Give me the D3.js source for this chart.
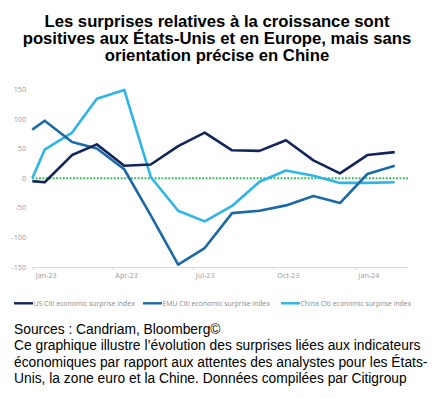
<!DOCTYPE html>
<html>
<head>
<meta charset="utf-8">
<script src="https://cdn.jsdelivr.net/npm/d3@7"></script>
<style>
  body { margin: 0; background: #fff; }
  svg { display: block; }
</style>
</head>
<body>
<svg id="chart" width="434" height="398"></svg>
<script>
// dates: first point at 1 Jan, then mid-month readings
var dates = ["2023-01-01", "2023-01-15", "2023-02-15", "2023-03-15", "2023-04-15", "2023-05-15",
             "2023-06-15", "2023-07-15", "2023-08-15", "2023-09-15", "2023-10-15", "2023-11-15",
             "2023-12-15", "2024-01-15", "2024-02-15"];
var usValues    = [-5, -7, 39, 57, 21, 23, 54, 77, 47, 46, 64, 30, 8, 39, 44];
var emuValues   = [82, 97, 61, 50, 15, -63, -146, -118, -59, -55, -46, -30, -42, 7, 21];
var chinaValues = [0, 48, 77, 134, 149, 2, -55, -73, -47, -6, 13, 4, -8, -8, -7];
var seriesNames = ["US Citi economic surprise index", "EMU Citi economic surprise index", "China Citi economic surprise index"];
var yTicks = [150, 100, 50, 0, -50, -100, -150];
var xTicks = ["2023-01-01", "2023-04-01", "2023-07-01", "2023-10-01", "2024-01-01"];

var titleLines = ["Les surprises relatives à la croissance sont",
                  "positives aux États-Unis et en Europe, mais sans",
                  "orientation précise en Chine"];
var noteLines = ["Sources : Candriam, Bloomberg©",
                 "Ce graphique illustre l’évolution des surprises liées aux indicateurs",
                 "économiques par rapport aux attentes des analystes pour les États-",
                 "Unis, la zone euro et la Chine. Données compilées par Citigroup"];

var colors = ["#13265c", "#1b6aa6", "#2cb5e6"];
var parse = d3.timeParse("%Y-%m-%d");
var fmt = d3.timeFormat("%b-%y");

var svg = d3.select("#chart");

svg.append("g")
  .selectAll("text")
  .data(titleLines)
  .enter()
  .append("text")
    .attr("x", 217)
    .attr("y", function(d, i) { return 26.5 + i * 17.4; })
    .attr("text-anchor", "middle")
    .style("font-family", "Liberation Sans, Arial, sans-serif")
    .style("font-weight", "bold")
    .style("font-size", "16.7px")
    .style("fill", "#000")
    .text(function(d) { return d; });

var x = d3.scaleTime()
  .domain([parse("2023-01-01"), parse("2024-03-01")])
  .range([32.3, 408]);
var y = d3.scaleLinear()
  .domain([-150, 150])
  .range([267, 89.3]);

// y labels
svg.append("g")
  .selectAll("text")
  .data(yTicks)
  .enter()
  .append("text")
    .attr("x", 26)
    .attr("y", function(d) { return y(d) + 2.6; })
    .attr("text-anchor", "end")
    .style("font-family", "Open Sans, sans-serif")
    .style("font-size", "7.2px")
    .style("fill", "#9a9a9a")
    .text(function(d) { return d; });

// x axis
var xAxis = d3.axisBottom(x)
  .tickValues(xTicks.map(parse))
  .tickSize(3)
  .tickFormat(fmt);
var gx = svg.append("g")
  .attr("transform", "translate(0," + y(-150) + ")")
  .call(xAxis);
gx.select(".domain").attr("stroke", "#d9d9d9").attr("d", "M32.3,0.5H408");
gx.selectAll(".tick line").attr("stroke", "#d9d9d9");
gx.selectAll(".tick text")
  .attr("text-anchor", "start")
  .attr("x", 3)
  .attr("dy", "0.71em")
  .attr("y", 6)
  .style("font-family", "Open Sans, sans-serif")
  .style("font-size", "7.2px")
  .style("fill", "#9a9a9a");

// zero line
svg.append("line")
  .attr("x1", 32.3).attr("x2", 408)
  .attr("y1", y(0)).attr("y2", y(0))
  .style("stroke", "#33b857")
  .style("stroke-width", 2)
  .style("stroke-dasharray", "1.8,1.6");

var allSeries = [usValues, emuValues, chinaValues];
var line = d3.line()
  .x(function(d, i) { return x(parse(dates[i])); })
  .y(function(d) { return y(d); });

// draw China first so darker lines sit on top
[2, 1, 0].forEach(function(k) {
  svg.append("path")
    .datum(allSeries[k])
    .attr("d", line)
    .style("fill", "none")
    .style("stroke", colors[k])
    .style("stroke-width", 2.6)
    .style("stroke-linejoin", "round");
});

// legend
var legendX = [14, 143, 281];
var lg = svg.append("g")
  .selectAll("g")
  .data(seriesNames)
  .enter()
  .append("g")
    .attr("transform", function(d, i) { return "translate(" + legendX[i] + ",303.3)"; });
lg.append("line")
  .attr("x1", 0).attr("x2", 19)
  .style("stroke", function(d, i) { return colors[i]; })
  .style("stroke-width", 2.4);
lg.append("text")
  .attr("x", 19.5)
  .attr("y", 2.4)
  .style("font-family", "Open Sans, sans-serif")
  .style("font-size", "6.9px")
  .style("fill", "#8a8a8a")
  .text(function(d) { return d; });

// notes
svg.append("g")
  .selectAll("text")
  .data(noteLines)
  .enter()
  .append("text")
    .attr("x", 14)
    .attr("y", function(d, i) { return 334 + i * 16.4; })
    .style("font-family", "Liberation Sans, Arial, sans-serif")
    .style("font-size", "13.8px")
    .style("fill", "#000")
    .text(function(d) { return d; });
</script>
</body>
</html>
